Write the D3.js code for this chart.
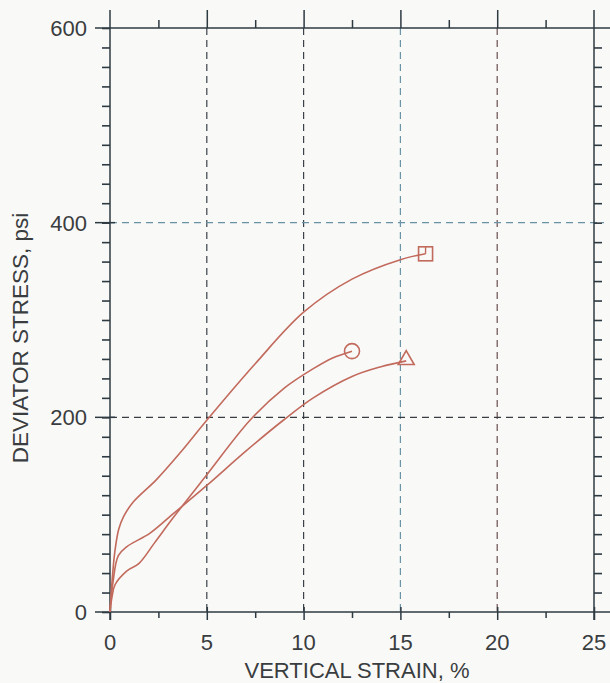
<!DOCTYPE html>
<html>
<head>
<meta charset="utf-8">
<script src="https://cdn.jsdelivr.net/npm/d3@7"></script>
<style>
  body { margin: 0; background: #f9f9f8; }
  svg { display: block; }
  text { font-family: "Liberation Sans", Arial, sans-serif; fill: #3a3d40; }
</style>
</head>
<body>
<div id="chart"></div>
<script>
// strain (%) and deviator stress (psi)
const squareStrain = [0, 0.1, 0.25, 0.45, 0.7, 1.2, 2.4, 3.6, 5, 7.5, 10, 12.5, 15, 16.3];
const squareStress = [0, 30, 62, 85, 98, 113, 136, 163, 197, 255, 308, 342, 362, 368];

const circleStrain = [0, 0.1, 0.26, 0.86, 1.5, 2.3, 3.27, 5, 7.23, 9, 10.5, 11.5, 12.5];
const circleStress = [0, 15, 28, 42, 50, 71, 97, 141, 197, 230, 250, 261, 268];

const triangleStrain = [0, 0.15, 0.43, 0.86, 2.07, 3.27, 5, 7, 8.95, 10.5, 12.5, 14, 15.3];
const triangleStress = [0, 30, 58, 67, 81, 101, 130, 165, 197, 220, 242, 252, 258];

const xTicks = [0, 5, 10, 15, 20, 25];
const yTicks = [0, 200, 400, 600];

const params = { width: 610, height: 683 };

const svg = d3.select("#chart").append("svg")
    .attr("width", params.width)
    .attr("height", params.height);

const x = d3.scaleLinear().domain([0, 25]).range([110, 594]);
const y = d3.scaleLinear().domain([0, 600]).range([612, 28]);

const axisColor = "#2e3a42";
const curveColor = "#c26a5c";

// dashed grid lines
const vGrid = [
    { v: 5, c: "#3a4148" }, { v: 10, c: "#3a4148" },
    { v: 15, c: "#6a93a8" }, { v: 20, c: "#6b4e4e" }
];
svg.append("g").selectAll("line").data(vGrid).join("line")
    .attr("x1", d => x(d.v)).attr("x2", d => x(d.v))
    .attr("y1", y(600)).attr("y2", y(0))
    .attr("stroke", d => d.c).attr("stroke-width", 1.2)
    .attr("stroke-dasharray", "7,5");

const hGrid = [{ v: 200, c: "#3a3d40" }, { v: 400, c: "#6a93a8" }];
svg.append("g").selectAll("line").data(hGrid).join("line")
    .attr("x1", x(0)).attr("x2", x(25) + 10)
    .attr("y1", d => y(d.v)).attr("y2", d => y(d.v))
    .attr("stroke", d => d.c).attr("stroke-width", 1.2)
    .attr("stroke-dasharray", "7,5");

// frame: the 0 and 600 lines run past both side axes
const frame = svg.append("g").attr("stroke", axisColor).attr("stroke-width", 1.5);
frame.append("line").attr("x1", 95).attr("x2", 610).attr("y1", y(600)).attr("y2", y(600));
frame.append("line").attr("x1", 95).attr("x2", 610).attr("y1", y(0)).attr("y2", y(0));
frame.append("line").attr("x1", x(0)).attr("x2", x(0)).attr("y1", 10).attr("y2", y(0) + 8);
frame.append("line").attr("x1", x(25)).attr("x2", x(25)).attr("y1", 10).attr("y2", y(0) + 8);

// left axis: minor ticks every 20 psi
const leftAxis = svg.append("g").attr("transform", `translate(${x(0)},0)`)
    .call(d3.axisLeft(y).tickValues(d3.range(0, 601, 20)).tickSize(8).tickFormat(""));
leftAxis.select(".domain").remove();
leftAxis.selectAll("line").attr("stroke", axisColor).attr("stroke-width", 1.6);
svg.append("g").selectAll("line").data([200, 400]).join("line")
    .attr("x1", x(0) - 15).attr("x2", x(0) + 5)
    .attr("y1", d => y(d)).attr("y2", d => y(d))
    .attr("stroke", axisColor).attr("stroke-width", 1.5);
svg.append("g").selectAll("text").data(yTicks).join("text")
    .attr("x", 87).attr("y", d => y(d))
    .attr("dy", "0.36em")
    .attr("text-anchor", "end")
    .attr("font-size", 22)
    .text(d => d);

// right axis: ticks pointing outward
const rightAxis = svg.append("g").attr("transform", `translate(${x(25)},0)`)
    .call(d3.axisRight(y).tickValues(d3.range(20, 600, 20)).tickSize(8).tickFormat(""));
rightAxis.select(".domain").remove();
rightAxis.selectAll("line").attr("stroke", axisColor).attr("stroke-width", 1.6);

// top axis: ticks pointing up
const topAxis = svg.append("g").attr("transform", `translate(0,${y(600)})`)
    .call(d3.axisTop(x).tickValues(d3.range(2.5, 25, 2.5))
        .tickSize(8).tickFormat(""));
topAxis.select(".domain").remove();
topAxis.selectAll("line").attr("stroke", axisColor).attr("stroke-width", 1.5)
    .attr("y2", d => (d % 5 === 0 ? -18 : -8));

// bottom axis: ticks pointing down
const bottomAxis = svg.append("g").attr("transform", `translate(0,${y(0)})`)
    .call(d3.axisBottom(x).tickValues(d3.range(0, 25.1, 2.5)).tickSize(6).tickFormat(""));
bottomAxis.select(".domain").remove();
bottomAxis.selectAll("line").attr("stroke", axisColor).attr("stroke-width", 1.5)
    .attr("y1", d => (d % 5 === 0 ? -5 : 0))
    .attr("y2", d => (d % 5 === 0 ? 8 : 6));
svg.append("g").selectAll("text").data(xTicks).join("text")
    .attr("x", d => x(d)).attr("y", 650)
    .attr("text-anchor", "middle")
    .attr("font-size", 22)
    .text(d => d);

// axis titles
svg.append("text")
    .attr("x", 357).attr("y", 678)
    .attr("text-anchor", "middle")
    .attr("font-size", 22)
    .text("VERTICAL STRAIN, %");
svg.append("text")
    .attr("transform", `translate(28,338) rotate(-90)`)
    .attr("text-anchor", "middle")
    .attr("font-size", 22.5)
    .text("DEVIATOR STRESS, psi");

// curves
const line = d3.line()
    .x(d => x(d[0])).y(d => y(d[1]))
    .curve(d3.curveCatmullRom.alpha(0.5));
const series = [
    { xs: squareStrain, ys: squareStress },
    { xs: circleStrain, ys: circleStress },
    { xs: triangleStrain, ys: triangleStress }
];
svg.append("g").selectAll("path").data(series).join("path")
    .attr("d", s => line(d3.zip(s.xs, s.ys)))
    .attr("fill", "none")
    .attr("stroke", curveColor)
    .attr("stroke-width", 1.6);

// end markers
const sqX = x(squareStrain[squareStrain.length - 1]);
const sqY = y(squareStress[squareStress.length - 1]);
svg.append("rect")
    .attr("x", sqX - 7).attr("y", sqY - 7)
    .attr("width", 14).attr("height", 14)
    .attr("fill", "none").attr("stroke", curveColor).attr("stroke-width", 1.6);
svg.append("line")
    .attr("x1", sqX).attr("x2", sqX).attr("y1", sqY - 7).attr("y2", sqY)
    .attr("stroke", curveColor).attr("stroke-width", 1.4);

svg.append("circle")
    .attr("cx", x(circleStrain[circleStrain.length - 1]))
    .attr("cy", y(circleStress[circleStress.length - 1]))
    .attr("r", 7.5)
    .attr("fill", "none").attr("stroke", curveColor).attr("stroke-width", 1.6);

svg.append("path")
    .attr("d", d3.symbol(d3.symbolTriangle, 110)())
    .attr("transform", `translate(${x(triangleStrain[triangleStrain.length - 1])},${y(triangleStress[triangleStress.length - 1]) - 1})`)
    .attr("fill", "none").attr("stroke", curveColor).attr("stroke-width", 1.6);
</script>
</body>
</html>
